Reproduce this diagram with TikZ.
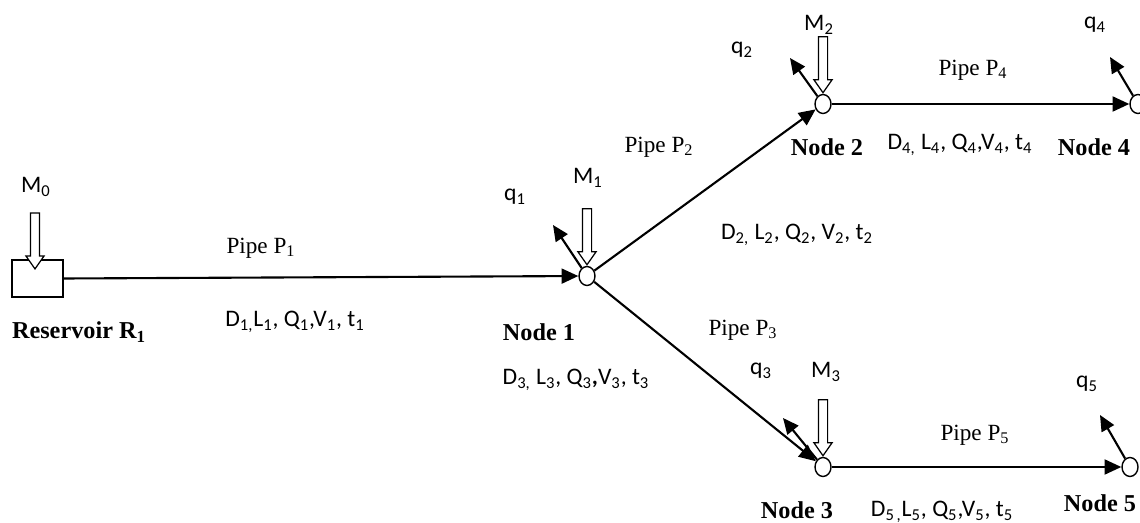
\documentclass[tikz,border=0pt]{standalone}
\usepackage{fontspec}
\setmainfont{Liberation Serif}
\newfontfamily\calibri{Carlito}
\usetikzlibrary{arrows.meta,shapes.geometric,shapes.arrows}

\begin{document}
\begin{tikzpicture}[
  x=0.02cm, y=-0.02cm,
  pipe/.style={-{Triangle[length=9.5pt,width=8.5pt]}, line width=1.2pt},
  flow/.style={-{Triangle[length=9pt,width=8pt]}, line width=1.2pt},
  junction/.style={ellipse, draw, line width=0.8pt, fill=white, inner sep=0pt,
    minimum width=0.32cm, minimum height=0.38cm},
  tank/.style={rectangle, draw, line width=0.8pt, minimum width=1.02cm, minimum height=0.74cm},
  inflow/.style={single arrow, draw, line width=0.7pt, fill=white, shape border rotate=270,
    minimum height=1.12cm, inner sep=0.08cm, single arrow head extend=0.09cm,
    single arrow tip angle=70, anchor=tip},
  pipelabel/.style={font=\fontsize{13.2}{15}\selectfont},
  nodelabel/.style={font=\fontsize{13.8}{16}\selectfont\bfseries},
  qty/.style={font=\calibri\fontsize{13.5}{15}\selectfont}
]

\useasboundingbox (0,0) rectangle (1140,523);

% reservoir and junctions
\node[tank] (res) at (37.5,278.5) {};
\node[junction] (n1) at (587,276) {};
\node[junction] (n2) at (823,104) {};
\node[junction] (n3) at (823,467) {};
\node[junction] (n4) at (1138,104) {};
\node[junction] (n5) at (1130,467) {};

% pipes
\draw[pipe] (res.east) -- (n1);
\draw[pipe] (n1) -- (n2);
\draw[pipe] (n1) -- (n3);
\draw[pipe] (n2) -- (n4);
\draw[pipe] (n3) -- (n5);

% outflows q
\coordinate (q1end) at (553,225);
\coordinate (q2end) at (790,58);
\coordinate (q3end) at (783,418);
\coordinate (q4end) at (1110,57);
\coordinate (q5end) at (1100,415);
\draw[flow] (n1) -- (q1end);
\draw[flow] (n2) -- (q2end);
\draw[flow] (n3) -- (q3end);
\draw[flow] (n4) -- (q4end);
\draw[flow] (n5) -- (q5end);

% inflows M
\node[inflow] (in0) at (35,270) {};
\node[inflow] (in1) at (n1.north) {};
\node[inflow] (in2) at (n2.north) {};
\node[inflow] (in3) at (n3.north) {};

\node[qty] (m0) at (36,187) {M\textsubscript{0}};
\node[qty] (m1) at (588,178) {M\textsubscript{1}};
\node[qty] (m2) at (819,25) {M\textsubscript{2}};
\node[qty] (m3) at (826,372) {M\textsubscript{3}};

\node[qty] (q1) at (515,197) {q\textsubscript{1}};
\node[qty] (q2) at (742,50) {q\textsubscript{2}};
\node[qty] (q3) at (761,371) {q\textsubscript{3}};
\node[qty] (q4) at (1095,25) {q\textsubscript{4}};
\node[qty] (q5) at (1087,384) {q\textsubscript{5}};

% pipe labels
\node[pipelabel] (p1) at (261,248) {Pipe P\textsubscript{1}};
\node[pipelabel] (p2) at (659,147) {Pipe P\textsubscript{2}};
\node[pipelabel] (p3) at (743,330) {Pipe P\textsubscript{3}};
\node[pipelabel] (p4) at (973,70) {Pipe P\textsubscript{4}};
\node[pipelabel] (p5) at (975,435) {Pipe P\textsubscript{5}};

\node[qty] (d1) at (295,322) {D\textsubscript{1,}L\textsubscript{1}, Q\textsubscript{1},V\textsubscript{1}, t\textsubscript{1}};
\node[qty] (d2) at (797,235) {D\textsubscript{2,} L\textsubscript{2}, Q\textsubscript{2}, V\textsubscript{2}, t\textsubscript{2}};
\node[qty] (d3) at (576,380) {D\textsubscript{3,} L\textsubscript{3}, Q\textsubscript{3}\textbf{,}V\textsubscript{3}, t\textsubscript{3}};
\node[qty] (d4) at (960,145) {D\textsubscript{4,} L\textsubscript{4}, Q\textsubscript{4},V\textsubscript{4}, t\textsubscript{4}};
\node[qty] (d5) at (942,512) {D\textsubscript{5\,,}L\textsubscript{5}, Q\textsubscript{5},V\textsubscript{5}, t\textsubscript{5}};

% node names
\node[nodelabel] (lres) at (79,332) {Reservoir R\textsubscript{1}};
\node[nodelabel] (l1) at (539,332) {Node 1};
\node[nodelabel] (l2) at (827,147) {Node 2};
\node[nodelabel] (l3) at (797,510) {Node 3};
\node[nodelabel] (l4) at (1094,147) {Node 4};
\node[nodelabel] (l5) at (1100,503) {Node 5};

\end{tikzpicture}
\end{document}
